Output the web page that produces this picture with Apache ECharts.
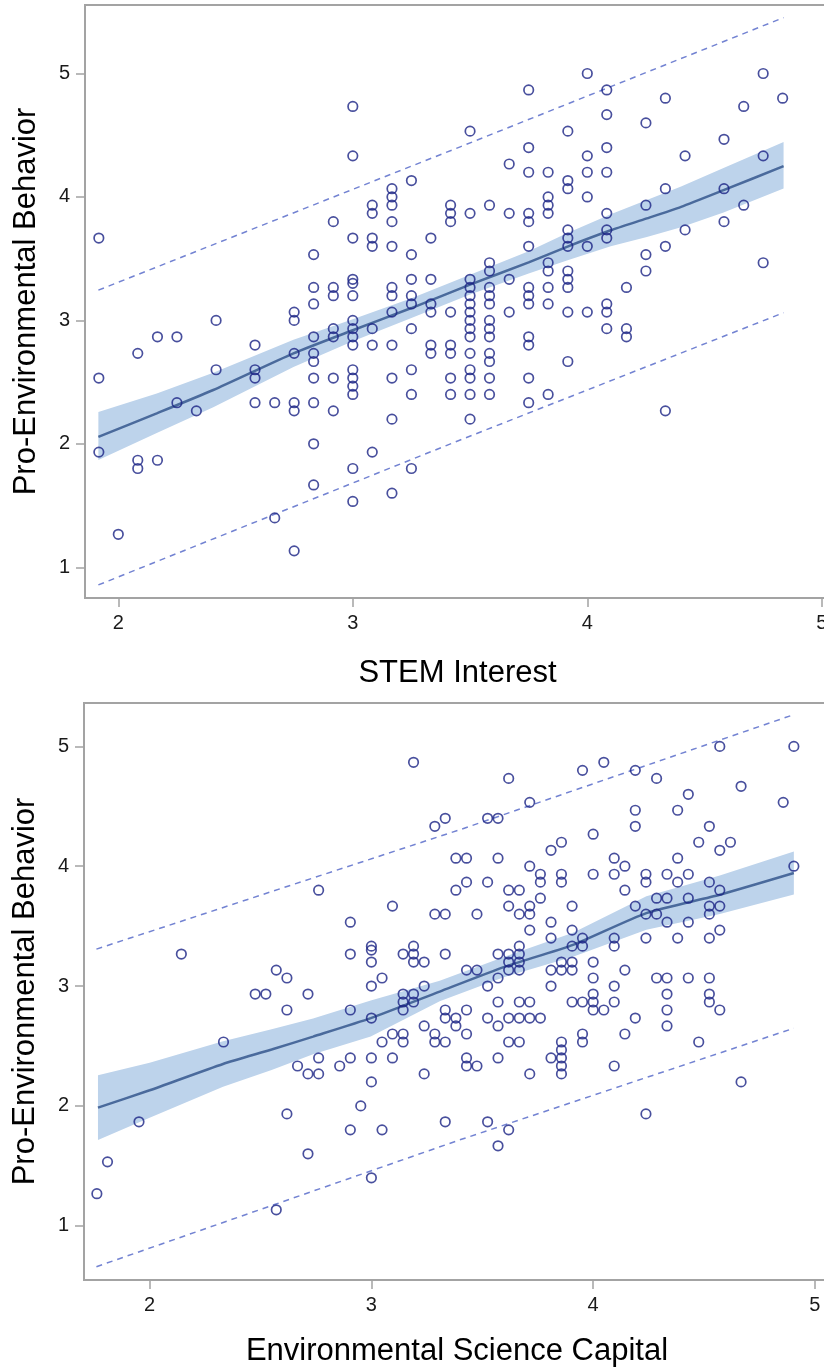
<!DOCTYPE html>
<html>
<head>
<meta charset="utf-8">
<script src="https://cdn.jsdelivr.net/npm/echarts@6/dist/echarts.min.js"></script>
<style>
html,body{margin:0;padding:0;background:#fff;}
#chart{width:824px;height:1367px;}
</style>
</head>
<body>
<div id="chart"></div>
<script>
// ---------- Labels ----------
const yTitle = 'Pro-Environmental Behavior';
const xTitleTop = 'STEM Interest';
const xTitleBottom = 'Environmental Science Capital';
const yTicks = [1, 2, 3, 4, 5];
const xTicks = [2, 3, 4, 5];

// ---------- Top panel: STEM Interest (scatter, grouped by x column) ----------
const stemColumnX = [1.917, 2.0, 2.083, 2.167, 2.25, 2.333, 2.417, 2.583, 2.667, 2.75, 2.833, 2.917, 3.0, 3.083, 3.167, 3.25, 3.333, 3.417, 3.5, 3.583, 3.667, 3.75, 3.833, 3.917, 4.0, 4.083, 4.167, 4.25, 4.333, 4.417, 4.583, 4.667, 4.75, 4.833];
const stemColumnY = [
  [3.667, 2.533, 1.933],
  [1.267],
  [2.733, 1.867, 1.8],
  [2.867, 1.867],
  [2.867, 2.333],
  [2.267],
  [3.0, 2.6],
  [2.8, 2.6, 2.533, 2.333],
  [2.333, 1.4],
  [3.067, 3.0, 2.733, 2.333, 2.267, 1.133],
  [3.533, 3.267, 3.133, 2.867, 2.733, 2.667, 2.533, 2.333, 2.0, 1.667],
  [3.8, 3.267, 3.2, 2.933, 2.867, 2.533, 2.267],
  [4.733, 4.333, 3.667, 3.333, 3.3, 3.2, 3.0, 2.933, 2.867, 2.8, 2.6, 2.533, 2.467, 2.4, 1.8, 1.533],
  [3.933, 3.867, 3.667, 3.6, 2.933, 2.8, 1.933],
  [4.067, 4.0, 3.933, 3.8, 3.6, 3.267, 3.2, 3.067, 2.8, 2.533, 2.2, 1.6],
  [4.133, 3.533, 3.333, 3.2, 3.133, 2.933, 2.6, 2.4, 1.8],
  [3.667, 3.333, 3.133, 3.067, 2.8, 2.733],
  [3.933, 3.867, 3.8, 3.067, 2.8, 2.733, 2.533, 2.4],
  [4.533, 3.867, 3.333, 3.267, 3.2, 3.133, 3.067, 3.0, 2.933, 2.867, 2.733, 2.6, 2.533, 2.4, 2.2],
  [3.933, 3.467, 3.4, 3.267, 3.2, 3.133, 3.0, 2.933, 2.867, 2.733, 2.667, 2.533, 2.4],
  [4.267, 3.867, 3.333, 3.067],
  [4.867, 4.4, 4.2, 3.867, 3.8, 3.6, 3.267, 3.2, 3.133, 2.867, 2.8, 2.533, 2.333],
  [4.2, 4.0, 3.933, 3.867, 3.467, 3.4, 3.267, 3.133, 2.4],
  [4.533, 4.133, 4.067, 3.733, 3.667, 3.6, 3.4, 3.333, 3.267, 3.067, 2.667],
  [5.0, 4.333, 4.2, 4.0, 3.6, 3.067],
  [4.867, 4.667, 4.4, 4.2, 3.867, 3.733, 3.667, 3.133, 3.067, 2.933],
  [3.267, 2.933, 2.867],
  [4.6, 3.933, 3.533, 3.4],
  [4.8, 4.067, 3.6, 2.267],
  [4.333, 3.733],
  [4.467, 4.067, 3.8],
  [4.733, 3.933],
  [5.0, 4.333, 3.467],
  [4.8]
];
// Loess fit, confidence band and prediction limits (top)
const stemFitX = [1.915, 2.164, 2.405, 2.747, 3.0, 3.25, 3.5, 3.75, 3.913, 4.1, 4.254, 4.4, 4.581, 4.837];
const stemFitY = [2.057, 2.247, 2.436, 2.733, 2.92, 3.10, 3.29, 3.47, 3.596, 3.73, 3.826, 3.92, 4.055, 4.249];
const stemCILower = [1.869, 2.087, 2.296, 2.623, 2.83, 3.02, 3.21, 3.38, 3.486, 3.60, 3.676, 3.755, 3.875, 4.069];
const stemCIUpper = [2.258, 2.407, 2.576, 2.843, 3.01, 3.18, 3.37, 3.56, 3.706, 3.86, 3.976, 4.085, 4.235, 4.446];
const stemPredX = [1.915, 3.458, 4.837];
const stemPredLower = [0.857, 2.031, 3.062];
const stemPredUpper = [3.245, 4.406, 5.453];

// ---------- Bottom panel: Environmental Science Capital ----------
const escColumnX = [1.762, 1.810, 1.952, 2.143, 2.333, 2.476, 2.524, 2.571, 2.619, 2.667, 2.714, 2.762, 2.857, 2.905, 2.952, 3.0, 3.048, 3.095, 3.143, 3.190, 3.238, 3.286, 3.333, 3.381, 3.429, 3.476, 3.524, 3.571, 3.619, 3.667, 3.714, 3.762, 3.810, 3.857, 3.905, 3.952, 4.0, 4.048, 4.095, 4.143, 4.190, 4.238, 4.286, 4.333, 4.381, 4.429, 4.476, 4.524, 4.571, 4.619, 4.667, 4.857, 4.905];
const escColumnY = [
  [1.267],
  [1.533],
  [1.867],
  [3.267],
  [2.533],
  [2.933],
  [2.933],
  [3.133, 1.133],
  [3.067, 2.8, 1.933],
  [2.333],
  [2.933, 2.267, 1.6],
  [3.8, 2.4, 2.267],
  [2.333],
  [3.533, 3.267, 2.8, 2.4, 1.8],
  [2.0],
  [3.333, 3.3, 3.2, 3.0, 2.733, 2.4, 2.2, 1.4],
  [3.067, 2.533, 1.8],
  [3.667, 2.6, 2.4],
  [3.267, 2.933, 2.867, 2.8, 2.6, 2.533],
  [4.867, 3.333, 3.267, 3.2, 2.933, 2.867],
  [3.2, 3.0, 2.667, 2.267],
  [4.333, 3.6, 2.6, 2.533],
  [4.4, 3.6, 3.267, 2.8, 2.733, 2.533, 1.867],
  [4.067, 3.8, 2.733, 2.667],
  [4.067, 3.867, 3.133, 2.8, 2.6, 2.4, 2.333],
  [3.6, 3.133, 2.333],
  [4.4, 3.867, 3.0, 2.733, 1.867],
  [4.4, 4.067, 3.267, 3.067, 2.867, 2.667, 2.4, 1.667],
  [4.733, 3.8, 3.667, 3.267, 3.2, 3.133, 2.733, 2.533, 1.8],
  [3.8, 3.6, 3.333, 3.267, 3.2, 3.133, 2.867, 2.733, 2.533],
  [4.533, 4.0, 3.667, 3.6, 3.467, 2.867, 2.733, 2.267],
  [3.933, 3.867, 3.733, 2.733],
  [4.133, 3.533, 3.4, 3.133, 3.0, 2.4],
  [4.2, 3.933, 3.867, 3.2, 3.133, 2.533, 2.467, 2.4, 2.333, 2.267],
  [3.667, 3.467, 3.333, 3.2, 3.133, 2.867],
  [4.8, 3.4, 3.333, 2.867, 2.6, 2.533],
  [4.267, 3.933, 3.2, 3.067, 2.933, 2.867, 2.8],
  [4.867, 2.8],
  [4.067, 3.933, 3.4, 3.333, 3.0, 2.867, 2.333],
  [4.0, 3.8, 3.133, 2.6],
  [4.8, 4.467, 4.333, 3.667, 2.733],
  [3.933, 3.867, 3.6, 3.4, 1.933],
  [4.733, 3.733, 3.6, 3.067],
  [3.933, 3.733, 3.533, 3.067, 2.933, 2.8, 2.667],
  [4.467, 4.067, 3.867, 3.4],
  [4.6, 3.933, 3.733, 3.533, 3.067],
  [4.2, 2.533],
  [4.333, 3.867, 3.667, 3.6, 3.4, 3.067, 2.933, 2.867],
  [5.0, 4.133, 3.8, 3.667, 3.467, 2.8],
  [4.2],
  [4.667, 2.2],
  [4.533],
  [5.0, 4.0]
];
const escFitX = [1.767, 2.0, 2.331, 2.55, 2.737, 2.997, 3.308, 3.6, 3.909, 4.24, 4.571, 4.905];
const escFitY = [1.985, 2.13, 2.35, 2.47, 2.578, 2.732, 2.954, 3.16, 3.344, 3.609, 3.762, 3.943];
const escCILower = [1.715, 1.90, 2.16, 2.30, 2.43, 2.58, 2.874, 3.075, 3.244, 3.469, 3.602, 3.763];
const escCIUpper = [2.255, 2.36, 2.54, 2.64, 2.73, 2.88, 3.044, 3.245, 3.444, 3.749, 3.922, 4.123];
const escPredX = [1.76, 3.398, 4.905];
const escPredLower = [0.658, 1.716, 2.648];
const escPredUpper = [3.308, 4.304, 5.265];

// ---------- helpers ----------
function flattenColumns(xs, ys) {
  const out = [];
  xs.forEach((x, i) => ys[i].forEach(y => out.push([x, y])));
  return out;
}
function pairs(xs, ys) { return xs.map((x, i) => [x, ys[i]]); }

const FONT = '"Liberation Sans", Arial, sans-serif';
const AXIS_COLOR = '#a3a3a3';
const MARKER = '#1a2385';
const FIT = '#4a6a9c';
const BAND = '#bdd3eb';
const PRED = '#7383d2';

function bandSeries(idx, xs, lo, hi) {
  return {
    type: 'custom',
    xAxisIndex: idx, yAxisIndex: idx,
    silent: true, z: 1,
    data: xs.map((x, i) => [x, lo[i], hi[i]]),
    encode: { x: 0, y: [1, 2] },
    renderItem: function (params, api) {
      if (params.dataIndexInside !== 0) return null;
      const pts = [];
      for (let i = 0; i < xs.length; i++) pts.push(api.coord([xs[i], hi[i]]));
      for (let i = xs.length - 1; i >= 0; i--) pts.push(api.coord([xs[i], lo[i]]));
      return { type: 'polygon', shape: { points: pts }, style: { fill: BAND } };
    }
  };
}
function predSeries(idx, xs, ys) {
  return {
    type: 'line', xAxisIndex: idx, yAxisIndex: idx, z: 2,
    data: pairs(xs, ys), showSymbol: false, symbol: 'none', silent: true,
    lineStyle: { color: PRED, width: 1.5, type: [6, 5] }
  };
}
function fitSeries(idx, xs, ys) {
  return {
    type: 'line', xAxisIndex: idx, yAxisIndex: idx, z: 3,
    data: pairs(xs, ys), showSymbol: false, symbol: 'none', smooth: 0.2, silent: true,
    lineStyle: { color: FIT, width: 2.5 }
  };
}
function scatterSeries(idx, data) {
  return {
    type: 'scatter', xAxisIndex: idx, yAxisIndex: idx, z: 4,
    data: data, symbol: 'circle', symbolSize: 9.5,
    itemStyle: { color: 'rgba(255,255,255,0)', borderColor: MARKER, borderWidth: 1.7 }
  };
}
function xAxis(idx, min, max, name, gap) {
  return {
    type: 'value', gridIndex: idx, min: min, max: max,
    name: name, nameLocation: 'middle', nameGap: gap,
    nameTextStyle: { fontFamily: FONT, fontSize: 31, color: '#000' },
    axisLine: { show: true, lineStyle: { color: AXIS_COLOR, width: 2 } },
    axisTick: { show: true, length: 9, customValues: xTicks, lineStyle: { color: AXIS_COLOR, width: 1.5 } },
    axisLabel: { customValues: xTicks, margin: 15, fontFamily: FONT, fontSize: 20, color: '#1a1a1a' },
    splitLine: { show: false }
  };
}
function yAxis(idx, min, max) {
  return {
    type: 'value', gridIndex: idx, min: min, max: max,
    name: yTitle, nameLocation: 'middle', nameGap: 43,
    nameTextStyle: { fontFamily: FONT, fontSize: 31, color: '#000' },
    axisLine: { show: true, lineStyle: { color: AXIS_COLOR, width: 2 } },
    axisTick: { show: true, length: 9, customValues: yTicks, lineStyle: { color: AXIS_COLOR, width: 1.5 } },
    axisLabel: { customValues: yTicks, margin: 15, fontFamily: FONT, fontSize: 20, color: '#1a1a1a' },
    splitLine: { show: false }
  };
}

const chart = echarts.init(document.getElementById('chart'), null, { renderer: 'canvas' });
chart.setOption({
  animation: false,
  backgroundColor: '#fff',
  grid: [
    { left: 85, top: 5, width: 745, height: 593, show: true, borderColor: AXIS_COLOR, borderWidth: 2, backgroundColor: 'transparent', outerBoundsMode: 'none' },
    { left: 84, top: 703, width: 746, height: 577, show: true, borderColor: AXIS_COLOR, borderWidth: 2, backgroundColor: 'transparent', outerBoundsMode: 'none' }
  ],
  xAxis: [
    xAxis(0, 1.858, 5.035, xTitleTop, 60),
    xAxis(1, 1.704, 5.068, xTitleBottom, 56)
  ],
  yAxis: [
    yAxis(0, 0.751, 5.555),
    yAxis(1, 0.547, 5.362)
  ],
  series: [
    bandSeries(0, stemFitX, stemCILower, stemCIUpper),
    predSeries(0, stemPredX, stemPredUpper),
    predSeries(0, stemPredX, stemPredLower),
    fitSeries(0, stemFitX, stemFitY),
    scatterSeries(0, flattenColumns(stemColumnX, stemColumnY)),
    bandSeries(1, escFitX, escCILower, escCIUpper),
    predSeries(1, escPredX, escPredUpper),
    predSeries(1, escPredX, escPredLower),
    fitSeries(1, escFitX, escFitY),
    scatterSeries(1, flattenColumns(escColumnX, escColumnY))
  ]
});
</script>
</body>
</html>
